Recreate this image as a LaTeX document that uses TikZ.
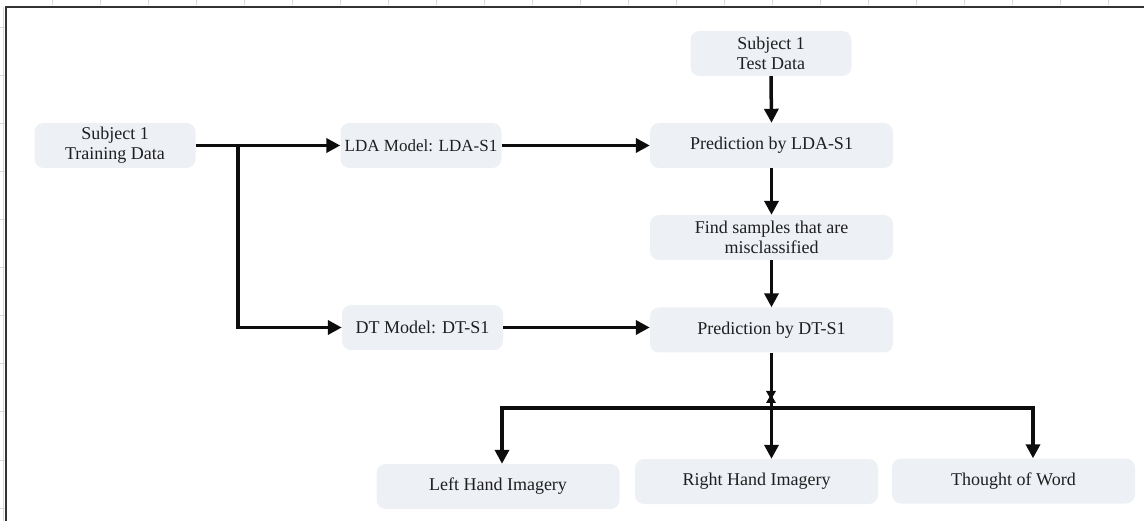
\documentclass[tikz,border=0pt]{standalone}
\usepackage{fontspec}
\setmainfont{Liberation Serif}
\usetikzlibrary{arrows.meta}
\definecolor{boxfill}{HTML}{EDF0F5}
\definecolor{inkline}{HTML}{0D0D0D}
\definecolor{framecol}{HTML}{333333}
\definecolor{gridcol}{HTML}{D9D9D9}
\definecolor{labelcol}{HTML}{1F1F1F}

\begin{document}
\begin{tikzpicture}[x=1pt,y=-1pt,
  stage/.style={fill=boxfill, rounded corners=9pt, inner sep=0pt, align=center,
    text=labelcol, font=\fontsize{18}{20}\selectfont,
    minimum width=243pt, minimum height=45pt},
  narrow/.style={minimum width=161pt},
  flow/.style={line width=3.5pt, draw=inkline, -{Triangle[length=14pt,width=14pt]}},
]
\useasboundingbox (0,0) rectangle (1144,521);

% sheet grid ticks and frame
\foreach \gx in {52,100,...,1108} \draw[gridcol, line width=1pt] (\gx,0) -- (\gx,5);
\foreach \gy in {28,76,...,508} \draw[gridcol, line width=1pt] (0,\gy) -- (5,\gy);
\draw[gridcol, line width=1pt] (3.5,7) -- (3.5,521);
\draw[framecol, line width=2pt] (6,521) -- (6,7) -- (1144,7);

% stages
\node[stage, narrow] (train) at (115,145.5) {Subject 1\\Training Data};
\node[stage, narrow, font=\fontsize{17}{20}\selectfont] (lda) at (421,145.5) {LDA Model: LDA-S1};
\node[stage, narrow] (dt) at (422.5,327.5) {DT Model: DT-S1};
\node[stage, narrow] (test) at (771,53.5) {Subject 1\\Test Data};
\node[stage] (predlda) at (771.5,145.5) {Prediction by LDA-S1};
\node[stage] (find) at (771.5,237.5) {Find samples that are\\misclassified};
\node[stage] (preddt) at (771.5,330) {Prediction by DT-S1};
\node[stage] (left) at (498,486.5) {Left Hand Imagery};
\node[stage] (right) at (756.5,481.5) {Right Hand Imagery};
\node[stage] (word) at (1013.5,481) {Thought of Word};

% training branch
\coordinate (split) at (238,145.5);
\draw[flow] (train.east) -- (lda.west);
\draw[flow] (split) |- (dt.west);
\draw[flow] (lda.east) -- (predlda.west);
\draw[flow] (dt.east) -- (dt.east -| preddt.west);

% test chain
\draw[flow] (test.south) -- (predlda.north);
\draw[flow] (predlda.south) -- (find.north);
\draw[flow] (find.south) -- (preddt.north);
\draw[flow] (preddt.south) -- (preddt.south |- right.north);

% output bus
\coordinate (busL) at (502,408);
\coordinate (busR) at (1033,408);
\draw[flow] (busR) -- (busL) -- (busL |- left.north);
\draw[flow] (busL) -- (busR) -- (busR |- word.north);
\fill[inkline] (766,391) -- (776,391) -- (772.5,397) -- (776,403) -- (766,403) -- (769.5,397) -- cycle;
\end{tikzpicture}
\end{document}
